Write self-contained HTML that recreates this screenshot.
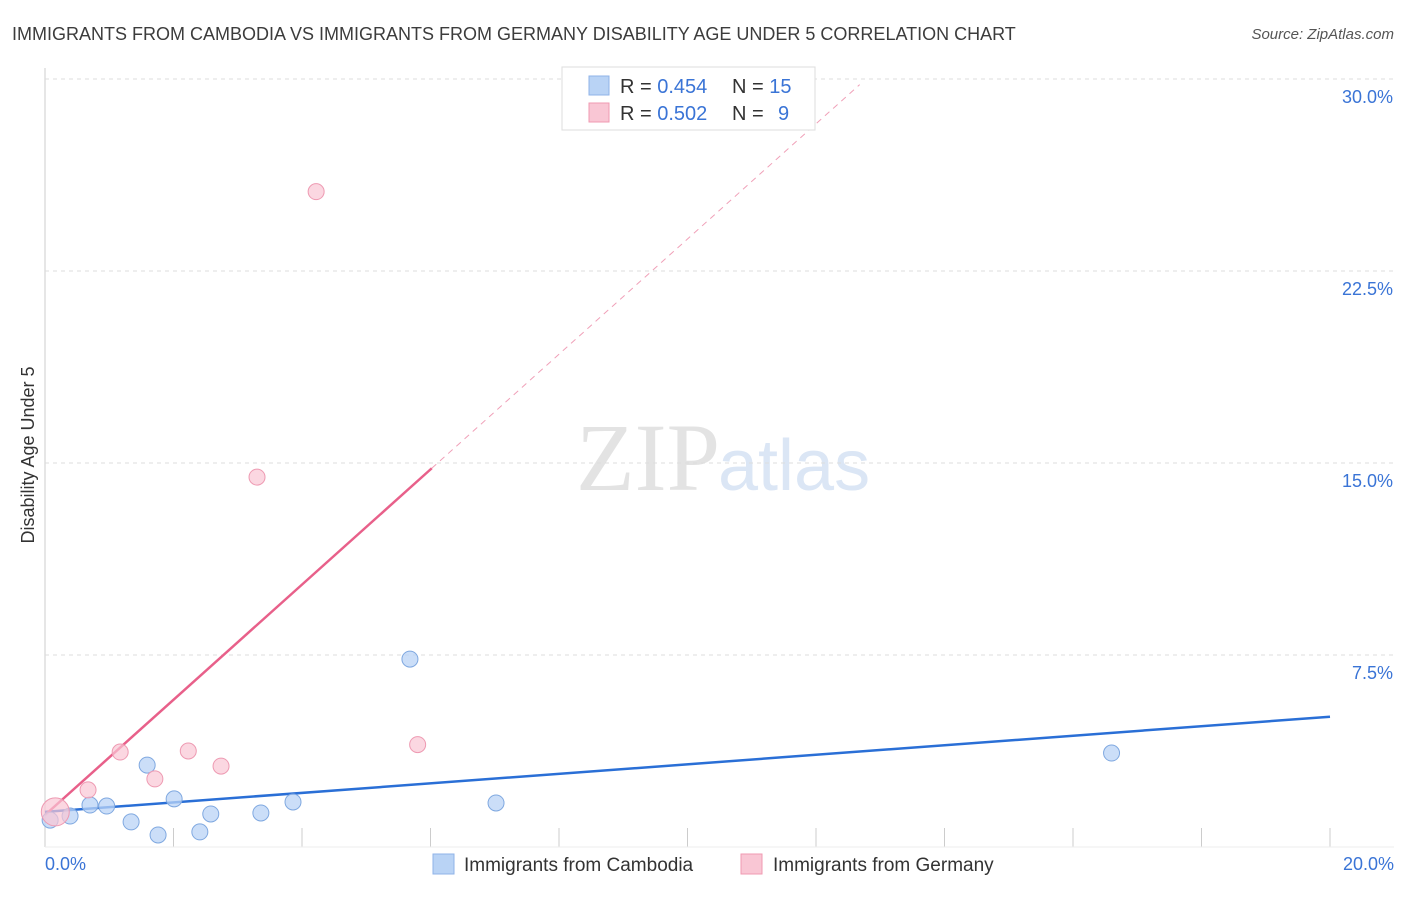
<!DOCTYPE html>
<html><head><meta charset="utf-8"><style>
body{margin:0;background:#fff;font-family:"Liberation Sans",sans-serif;}
svg text{font-family:"Liberation Sans",sans-serif;}
</style></head><body>
<svg id="c" width="1406" height="892" xmlns="http://www.w3.org/2000/svg">
<text x="12" y="40" font-size="18" fill="#3c3c3c">IMMIGRANTS FROM CAMBODIA VS IMMIGRANTS FROM GERMANY DISABILITY AGE UNDER 5 CORRELATION CHART</text>
<text x="1394" y="39" font-size="15" fill="#555" font-style="italic" text-anchor="end">Source: ZipAtlas.com</text>
<text x="720" y="490" font-size="96" fill="#e3e3e3" text-anchor="end" font-family="Liberation Serif" style="font-family:'Liberation Serif',serif">ZIP</text>
<text x="718" y="490" font-size="72" fill="#dbe6f5">atlas</text>
<text transform="translate(34,455) rotate(-90)" font-size="18" fill="#333" text-anchor="middle">Disability Age Under 5</text>
<g id="grid"></g><g id="lines"></g><g id="pts"></g>
<g>
<rect x="562" y="67" width="253" height="63" fill="#fff" stroke="#ddd"/>
<rect x="589" y="76" width="20" height="19" fill="#b9d3f5" stroke="#8fb3e8"/>
<rect x="589" y="103" width="20" height="19" fill="#f9c6d4" stroke="#f09ab2"/>
<text x="620" y="93" font-size="20" fill="#333">R = <tspan fill="#3a74d6">0.454</tspan><tspan x="732">N = </tspan><tspan fill="#3a74d6">15</tspan></text>
<text x="620" y="120" font-size="20" fill="#333">R = <tspan fill="#3a74d6">0.502</tspan><tspan x="732">N = </tspan><tspan x="778" fill="#3a74d6">9</tspan></text>
</g>
<g>
<rect x="433" y="854" width="21" height="20" fill="#b9d3f5" stroke="#8fb3e8"/>
<text x="464" y="871" font-size="19" fill="#333">Immigrants from Cambodia</text>
<rect x="741" y="854" width="21" height="20" fill="#f9c6d4" stroke="#f09ab2"/>
<text x="773" y="871" font-size="19" fill="#333">Immigrants from Germany</text>
</g>
</svg>
<script>
const yTicks=[7.5,15,22.5,30];
const yTickLabels=["7.5%","15.0%","22.5%","30.0%"];
const xTickLabels=["0.0%","20.0%"];
const cambodiaX=[0.08,0.39,0.70,0.96,1.34,1.59,1.76,2.01,2.41,2.58,3.36,3.86,5.68,7.02,16.6];
const cambodiaY=[1.05,1.21,1.64,1.60,0.98,3.2,0.47,1.88,0.59,1.29,1.33,1.76,7.34,1.72,3.67];
const germanyX=[0.16,0.67,1.17,1.71,2.23,2.74,3.30,4.22,5.8];
const germanyY=[1.37,2.23,3.71,2.66,3.75,3.16,14.45,25.6,4.0];
const cambodiaFit=[1.37,0.186];
const germanyFit=[1.25,2.25];
const NS="http://www.w3.org/2000/svg";
const X=v=>45+v*64.25, Y=v=>847-v*25.6;
function mk(t,a,p){const e=document.createElementNS(NS,t);for(const k in a)e.setAttribute(k,a[k]);document.getElementById(p).appendChild(e);return e;}
const g='grid';
let ax=mk('line',{x1:45,y1:68,x2:45,y2:847,stroke:'#ccc'},g);


yTicks.forEach((t,i)=>{
 const l=mk('line',{x1:45,y1:Y(t),x2:1394,y2:Y(t),stroke:'#ddd','stroke-dasharray':'4,4'},g);
 
 
 const tx=mk('text',{x:1393,y:Y(t)+24,'font-size':18,fill:'#3a74d6','text-anchor':'end'},g);tx.textContent=yTickLabels[i];
 
 
});
for(let i=0;i<=10;i++){const l=mk('line',{x1:X(i*2),y1:828,x2:X(i*2),y2:847,stroke:'#ccc'},g);
 
 }
const bl=mk('line',{x1:45,y1:847,x2:1394,y2:847,stroke:'#eee'},g);


[[0,'start',45],[20,'end',1394]].forEach((o,i)=>{const t=mk('text',{x:o[2],y:870,'font-size':18,fill:'#3a74d6','text-anchor':o[1]},g);t.textContent=xTickLabels[i];
 
 });
cambodiaX.forEach((x,i)=>{const c=mk('circle',{cx:X(x),cy:Y(cambodiaY[i]),r:8,fill:'#b9d3f5','fill-opacity':0.75,stroke:'#7fa8e0'},'pts');
 
 });
germanyX.forEach((x,i)=>{const c=mk('circle',{cx:X(x),cy:Y(germanyY[i]),r:i==0?14:8,fill:'#f9c6d4','fill-opacity':0.7,stroke:'#ee9ab2'},'pts');
 
 });
let l1=mk('line',{x1:X(0),y1:Y(cambodiaFit[0]),x2:X(20),y2:Y(cambodiaFit[0]+20*cambodiaFit[1]),stroke:'#2a6fd6','stroke-width':2.5},'lines');


const gx=6.02,gx2=12.68;
let l2=mk('line',{x1:X(0),y1:Y(germanyFit[0]),x2:X(gx),y2:Y(germanyFit[0]+gx*germanyFit[1]),stroke:'#e8608a','stroke-width':2.5},'lines');


let l3=mk('line',{x1:X(gx),y1:Y(germanyFit[0]+gx*germanyFit[1]),x2:X(gx2),y2:Y(germanyFit[0]+gx2*germanyFit[1]),stroke:'#f0a0b8','stroke-width':1,'stroke-dasharray':'6,5'},'lines');


</script>
</body></html>
